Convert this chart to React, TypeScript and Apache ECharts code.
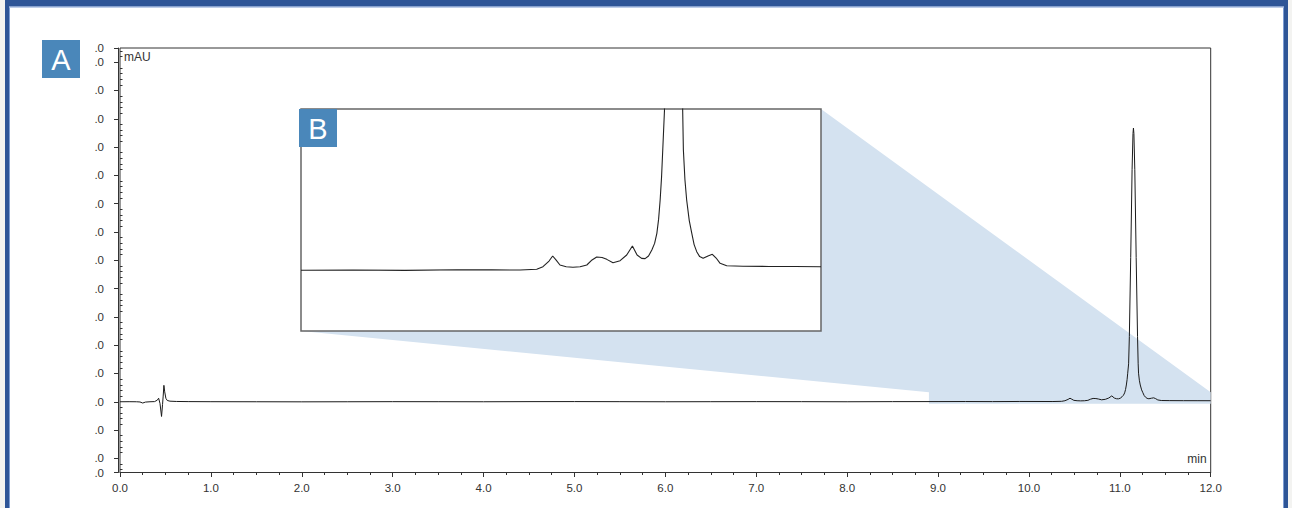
import React, { useEffect, useRef } from "react";
import * as echarts from "echarts";

// ---- Data ----
const retentionTime: number[] = [
  0.0, 0.1, 0.18, 0.22, 0.25, 0.28, 0.33, 0.38, 0.41, 0.425, 0.44, 0.457, 0.468, 0.475, 0.483, 0.492,
  0.505, 0.52, 0.55, 0.62, 0.75, 1.0, 1.5, 2.0, 2.5, 3.0, 3.5, 4.0, 4.5, 5.0, 5.5, 6.0, 6.5, 7.0, 7.5,
  8.0, 8.5, 9.0, 9.3, 9.6, 9.9, 10.1, 10.264, 10.36, 10.396, 10.431, 10.452, 10.471, 10.494, 10.53,
  10.569, 10.61, 10.649, 10.679, 10.706, 10.737, 10.764, 10.8, 10.841, 10.879, 10.912, 10.939, 10.965,
  10.985, 11.005, 11.024, 11.04, 11.053, 11.063, 11.072, 11.08, 11.087, 11.097, 11.105, 11.12, 11.135,
  11.145, 11.15, 11.155, 11.165, 11.18, 11.195, 11.202, 11.206, 11.215, 11.225, 11.24, 11.254, 11.268,
  11.283, 11.3, 11.32, 11.348, 11.373, 11.395, 11.418, 11.456, 11.55, 11.7, 11.85, 12.0,
];
const absorbance: number[] = [
  0.0, 0.02, 0.0, -0.08, -0.45, -0.12, 0.0, 0.05, 0.55, 1.25, -0.6, -5.2, -1.0, 2.0, 5.8, 3.5,
  1.2, 0.45, 0.2, 0.1, 0.05, 0.02, 0.0, -0.03, 0.0, 0.03, 0.02, 0.0, 0.04, 0.06, 0.03, 0.0, 0.02, 0.04, 0.03,
  0.0, 0.04, 0.06, 0.08, 0.05, 0.1, 0.09, 0.08, 0.15, 0.36, 0.83, 1.25, 0.92, 0.5, 0.36,
  0.31, 0.35, 0.5, 0.92, 1.17, 1.13, 0.97, 0.69, 0.86, 1.33, 2.08, 1.33, 1.05,
  1.03, 1.25, 1.75, 2.3, 3.14, 4.3, 5.92, 7.8, 10.08, 13.4, 23, 51, 82,
  94.8, 96.7, 94.8, 82, 51, 23, 13.4, 10.1, 7.6, 5.92, 4.2, 3.17, 2.2,
  1.61, 1.2, 1.06, 1.25, 1.39, 1.08, 0.64, 0.44, 0.4, 0.38, 0.37, 0.36,
];

// Axis ranges
const xRange = [0, 12];
const yRange = [-25, 125];
const yLabelValues = [-25, -20, -10, 0, 10, 20, 30, 40, 50, 60, 70, 80, 90, 100, 110, 120, 125];
const yLabelText = ".0";
// Zoomed window (shown in inset B)
const zoomX = [8.9, 12.0];
const zoomY = [-0.7, 3.35];
const insetX = [9.0, 12.0];
const insetY = [-5, 13.5];

const FONT = "'Liberation Sans', Arial, Helvetica, sans-serif";
const INK = "#333333";

export default function App() {
  const ref = useRef<HTMLDivElement>(null);

  useEffect(() => {
    document.body.style.margin = "0";
    if (!ref.current) return;
    const chart = echarts.init(ref.current, undefined, { renderer: "svg" });

    const mainData = retentionTime.map((t, i) => [t, absorbance[i]]);
    const insetData = mainData.filter((p) => p[0] >= 8.8);

    const yMajorTicks = yLabelValues.slice();
    const yMinorTicks: number[] = [];
    for (let v = -24; v <= 124; v += 2) {
      if (v % 10 !== 0) yMinorTicks.push(v);
    }

    const mainGrid = { left: 120, top: 48, width: 1090.7, height: 424.5 };
    const insetGrid = { left: 301, top: 109, width: 520, height: 222 };

    chart.setOption({
      animation: false,
      backgroundColor: "#ffffff",
      grid: [
        {
          ...mainGrid,
          show: true,
          borderColor: INK,
          borderWidth: 1,
          backgroundColor: "transparent",
          z: 0,
        },
        {
          ...insetGrid,
          show: true,
          borderColor: "#666666",
          borderWidth: 1.5,
          backgroundColor: "#ffffff",
          z: 2,
        },
      ],
      xAxis: [
        {
          type: "value",
          gridIndex: 0,
          min: xRange[0],
          max: xRange[1],
          interval: 1,
          axisLine: { show: true, onZero: false, lineStyle: { color: INK, width: 1 } },
          axisTick: { show: true, length: 4.5, lineStyle: { color: INK, width: 1 } },
          minorTick: { show: true, splitNumber: 4, length: 2.5, lineStyle: { color: INK, width: 1 } },
          splitLine: { show: false },
          minorSplitLine: { show: false },
          axisLabel: {
            formatter: (v: number) => v.toFixed(1),
            margin: 9,
            fontSize: 11.5,
            color: INK,
            fontFamily: FONT,
            showMinLabel: true,
            showMaxLabel: true,
          },
        },
        {
          type: "value",
          gridIndex: 1,
          min: insetX[0],
          max: insetX[1],
          show: false,
        },
      ],
      yAxis: [
        {
          type: "value",
          gridIndex: 0,
          min: yRange[0],
          max: yRange[1],
          offset: 2,
          axisLine: { show: true, onZero: false, lineStyle: { color: INK, width: 1 } },
          axisTick: { show: true, length: 4, customValues: yMajorTicks, lineStyle: { color: INK, width: 1 } },
          splitLine: { show: false },
          axisLabel: {
            customValues: yLabelValues,
            formatter: () => yLabelText,
            margin: 14,
            fontSize: 11.5,
            color: INK,
            fontFamily: FONT,
          },
        },
        {
          type: "value",
          gridIndex: 0,
          min: yRange[0],
          max: yRange[1],
          offset: 2,
          axisLine: { show: false },
          axisLabel: { show: false },
          splitLine: { show: false },
          axisTick: { show: true, length: 2.5, customValues: yMinorTicks, lineStyle: { color: INK, width: 1 } },
        },
        {
          type: "value",
          gridIndex: 1,
          min: insetY[0],
          max: insetY[1],
          show: false,
        },
      ],
      series: [
        {
          type: "line",
          name: "main",
          xAxisIndex: 0,
          yAxisIndex: 0,
          data: mainData,
          showSymbol: false,
          symbol: "none",
          lineStyle: { color: "#1a1a1a", width: 1 },
          z: 3,
          silent: true,
        },
        {
          type: "line",
          name: "inset",
          xAxisIndex: 1,
          yAxisIndex: 2,
          data: insetData,
          showSymbol: false,
          symbol: "none",
          clip: true,
          lineStyle: { color: "#222222", width: 1.1 },
          z: 4,
          silent: true,
        },
      ],
    });

    const px = (x: number, y: number) =>
      chart.convertToPixel({ xAxisIndex: 0, yAxisIndex: 0 }, [x, y]) as number[];
    const ipx = (x: number, y: number) =>
      chart.convertToPixel({ xAxisIndex: 1, yAxisIndex: 2 }, [x, y]) as number[];

    const zTL = px(zoomX[0], zoomY[1]);
    const zTR = px(zoomX[1], zoomY[1]);
    const zBR = px(zoomX[1], zoomY[0]);
    const zBL = px(zoomX[0], zoomY[0]);
    const iBL = ipx(insetX[0], insetY[0]);
    const iTR = ipx(insetX[1], insetY[1]);
    const iTL = ipx(insetX[0], insetY[1]);
    const gTL = px(xRange[0], yRange[1]);
    const gBR = px(xRange[1], yRange[0]);

    const badge = (label: string, x: number, y: number) => ({
      type: "group",
      z: 20,
      children: [
        { type: "rect", shape: { x, y, width: 38, height: 38 }, style: { fill: "#4A87BA" }, z: 20 },
        {
          type: "text",
          x: x + 19,
          y: y + 20,
          z: 21,
          style: {
            text: label,
            fill: "#ffffff",
            fontSize: 29,
            fontFamily: FONT,
            align: "center",
            verticalAlign: "middle",
          },
        },
      ],
    });

    chart.setOption({
      graphic: [
        {
          type: "polygon",
          z: 1,
          silent: true,
          shape: {
            points: [
              [iBL[0], iBL[1]],
              [iTR[0], iTR[1]],
              [zTR[0], zTR[1]],
              [zBR[0], zBR[1]],
              [zBL[0], zBL[1]],
              [zTL[0], zTL[1]],
            ],
          },
          style: { fill: "#D4E2F0" },
        },
        {
          type: "text",
          x: gTL[0] + 4,
          y: gTL[1] + 3,
          z: 10,
          style: { text: "mAU", fill: INK, fontSize: 12, fontFamily: FONT, align: "left", verticalAlign: "top" },
        },
        {
          type: "text",
          x: gBR[0] - 4,
          y: gBR[1] - 14,
          z: 10,
          style: { text: "min", fill: INK, fontSize: 12, fontFamily: FONT, align: "right", verticalAlign: "middle" },
        },
        badge("A", 42, 40),
        badge("B", iTL[0] - 2, iTL[1]),
        // page frame
        { type: "rect", z: 30, shape: { x: 0, y: 0, width: 1292, height: 6.5 }, style: { fill: "#2E5597" } },
        { type: "rect", z: 30, shape: { x: 0, y: 6.5, width: 1292, height: 1 }, style: { fill: "#7C9CD2" } },
        { type: "rect", z: 30, shape: { x: 0, y: 0, width: 5, height: 508 }, style: { fill: "#F3F3F1" } },
        { type: "rect", z: 30, shape: { x: 5, y: 0, width: 4, height: 508 }, style: { fill: "#2E5597" } },
        { type: "rect", z: 30, shape: { x: 9, y: 7.5, width: 1, height: 500.5 }, style: { fill: "#7C9CD2" } },
        { type: "rect", z: 30, shape: { x: 1283, y: 7.5, width: 1, height: 500.5 }, style: { fill: "#7C9CD2" } },
        { type: "rect", z: 30, shape: { x: 1284, y: 0, width: 4, height: 508 }, style: { fill: "#2E5597" } },
        { type: "rect", z: 30, shape: { x: 1288, y: 0, width: 4, height: 508 }, style: { fill: "#F3F3F1" } },
      ],
    });

    return () => {
      chart.dispose();
    };
  }, []);

  return <div ref={ref} style={{ width: 1292, height: 508 }} />;
}
